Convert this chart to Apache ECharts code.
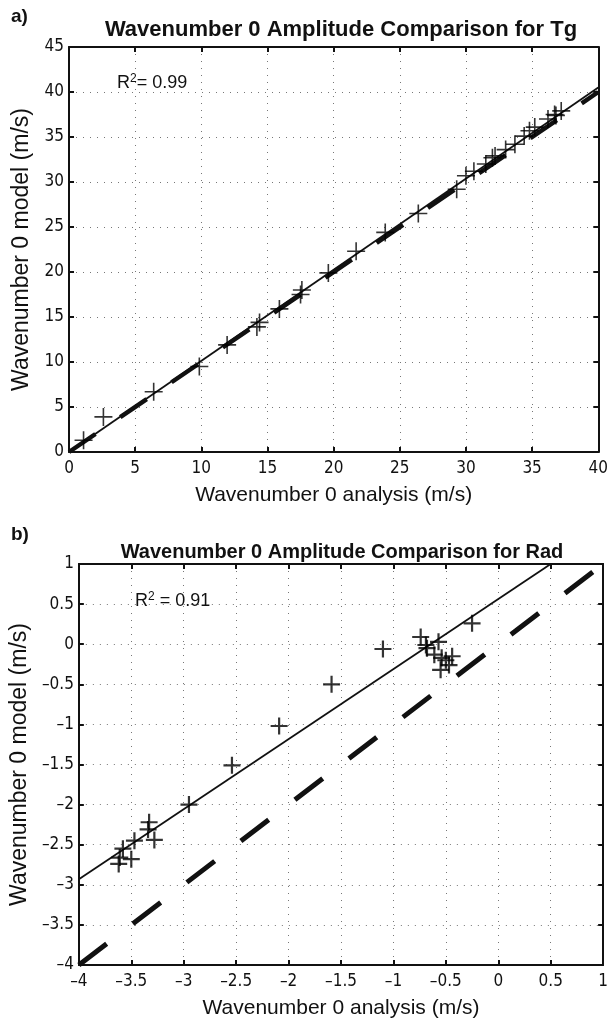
<!DOCTYPE html>
<html><head><meta charset="utf-8">
<script src="https://cdn.jsdelivr.net/npm/echarts@6/dist/echarts.min.js"></script>
<style>html,body{margin:0;padding:0;background:#fff}#c{width:611px;height:1020px}</style>
</head><body><div id="c"></div>
<script>
// ---- Panel a) Tg ----
const tgAnalysis = [1.1, 2.6, 6.4, 9.85, 11.95, 14.2, 14.4, 15.9, 17.5, 17.6, 19.6, 21.7, 23.9, 26.4, 29.3, 30.0, 30.6, 31.5, 32.0, 32.2, 33.0, 33.7, 34.4, 34.8, 35.2, 36.2, 36.7, 36.8, 37.2];
const tgModel    = [1.3, 3.9, 6.7, 9.5, 11.9, 13.9, 14.4, 15.9, 17.5, 18.0, 19.9, 22.3, 24.4, 26.5, 29.2, 30.7, 31.2, 32.0, 32.7, 32.9, 33.6, 34.2, 35.1, 35.7, 36.1, 37.0, 37.5, 37.4, 37.9];
const tgFitX = [0, 40];
const tgFitY = [0, 40.5];
const tgOneX = [0, 40];
const tgOneY = [0, 40];
const tgTicksX = [0, 5, 10, 15, 20, 25, 30, 35, 40];
const tgTicksY = [0, 5, 10, 15, 20, 25, 30, 35, 40, 45];
const tgR2 = '0.99';

// ---- Panel b) Rad ----
const radAnalysis = [-2.95, -2.54, -2.09, -1.59, -1.10, -0.25, -0.74, -0.69, -0.68, -0.57, -0.61, -0.54, -0.44, -0.47, -0.55, -0.50, -3.33, -3.34, -3.28, -3.47, -3.58, -3.61, -3.50, -3.62];
const radModel    = [-2.00, -1.51, -1.02, -0.50, -0.06, 0.26, 0.09, -0.01, -0.05, 0.03, -0.13, -0.17, -0.15, -0.26, -0.32, -0.20, -2.22, -2.31, -2.44, -2.45, -2.55, -2.66, -2.68, -2.74];
const radFitX = [-4, 0.5];
const radFitY = [-2.93, 1.0];
const radOneX = [-4, 1];
const radOneY = [-4, 1];
const radTicksX = [-4, -3.5, -3, -2.5, -2, -1.5, -1, -0.5, 0, 0.5, 1];
const radTicksY = [-4, -3.5, -3, -2.5, -2, -1.5, -1, -0.5, 0, 0.5, 1];
const radR2 = '0.91';

const titles = ['Wavenumber 0 Amplitude Comparison for Tg', 'Wavenumber 0 Amplitude Comparison for Rad'];
const panelLabels = ['a)', 'b)'];
const xName = 'Wavenumber 0 analysis (m/s)';
const yName = 'Wavenumber 0 model (m/s)';

const zip = (a, b) => a.map((v, i) => [v, b[i]]);
const fmt = v => String(v).replace('-', '\u2013');
const NARROW = "'Liberation Sans Narrow','DejaVu Sans Condensed',sans-serif";
const SANS = "'Liberation Sans',Arial,sans-serif";
const PLUS = 'path://M10,0L10,20M0,10L20,10';
const INK = '#111';

const grids = [
  {left: 69, top: 47, width: 540, height: 405},
  {left: 75, top: 564, width: 535, height: 401}
];

function mainX(gi, min, max, interval, ticks) {
  return {
    type: 'value', gridIndex: gi, min, max, interval, position: 'bottom',
    name: xName, nameLocation: 'middle', nameGap: 33,
    nameTextStyle: {fontFamily: SANS, fontSize: 21, color: INK},
    axisLine: {show: true, onZero: false, lineStyle: {color: INK, width: 2}},
    axisTick: {show: true, inside: true, length: 5, lineStyle: {color: INK, width: 2}},
    axisLabel: {fontFamily: NARROW, fontSize: 17, color: INK, margin: 8,
      formatter: v => ticks.includes(v) ? fmt(v) : ''},
    splitLine: {show: true, lineStyle: {color: '#777', type: [1, 6], width: 1}}
  };
}
function mainY(gi, min, max, interval, ticks, gap) {
  return {
    type: 'value', gridIndex: gi, min, max, interval, position: 'left',
    name: yName, nameLocation: 'middle', nameGap: gap,
    nameTextStyle: {fontFamily: SANS, fontSize: 23, color: INK},
    axisLine: {show: true, onZero: false, lineStyle: {color: INK, width: 2}},
    axisTick: {show: true, inside: true, length: 5, lineStyle: {color: INK, width: 2}},
    axisLabel: {fontFamily: NARROW, fontSize: 17, color: INK, margin: 5,
      formatter: v => ticks.includes(v) ? fmt(v) : ''},
    splitLine: {show: true, lineStyle: {color: '#777', type: [1, 6], width: 1}}
  };
}
function sideAxis(kind, gi, min, max, interval) {
  return {
    type: 'value', gridIndex: gi, min, max, interval,
    position: kind === 'x' ? 'top' : 'right',
    axisLine: {show: true, onZero: false, lineStyle: {color: INK, width: 2}},
    axisTick: {show: true, inside: true, length: 5, lineStyle: {color: INK, width: 2}},
    axisLabel: {show: false}, splitLine: {show: false}
  };
}
const r2Rich = {
  a: {fontFamily: SANS, fontSize: 18, fontWeight: 'normal', color: INK},
  s: {fontFamily: SANS, fontSize: 12, fontWeight: 'normal', color: INK, verticalAlign: 'top', padding: [0, 0, 9, 0]}
};

const option = {
  animation: false,
  backgroundColor: '#fff',
  title: [
    {text: panelLabels[0], left: 6, top: 2, textStyle: {fontFamily: SANS, fontSize: 19, fontWeight: 'bold', color: INK}},
    {text: titles[0], left: 336, top: 14, textAlign: 'center', textStyle: {fontFamily: SANS, fontSize: 22, fontWeight: 'bold', color: INK}},
    {text: panelLabels[1], left: 6, top: 520, textStyle: {fontFamily: SANS, fontSize: 19, fontWeight: 'bold', color: INK}},
    {text: titles[1], left: 337, top: 537, textAlign: 'center', textStyle: {fontFamily: SANS, fontSize: 20, fontWeight: 'bold', color: INK}},
    {text: '{a|R}{s|2}{a|= ' + tgR2 + '}', left: 112, top: 68, textStyle: {fontWeight: 'normal', rich: r2Rich}},
    {text: '{a|R}{s|2}{a| = ' + radR2 + '}', left: 130, top: 586, textStyle: {fontWeight: 'normal', rich: r2Rich}}
  ],
  grid: grids,
  xAxis: [
    mainX(0, 0, 40, 5, tgTicksX),
    sideAxis('x', 0, 0, 40, 5),
    mainX(1, -4, 1, 0.5, radTicksX),
    sideAxis('x', 1, -4, 1, 0.5)
  ],
  yAxis: [
    mainY(0, 0, 45, 5, tgTicksY, 29),
    sideAxis('y', 0, 0, 45, 5),
    mainY(1, -4, 1, 0.5, radTicksY, 35),
    sideAxis('y', 1, -4, 1, 0.5)
  ],
  series: [
    {type: 'line', xAxisIndex: 0, yAxisIndex: 0, data: zip(tgOneX, tgOneY), symbol: 'none', z: 2,
      lineStyle: {color: INK, width: 4.5, type: [32, 30], cap: 'butt'}},
    {type: 'line', xAxisIndex: 0, yAxisIndex: 0, data: zip(tgFitX, tgFitY), symbol: 'none', z: 3,
      lineStyle: {color: INK, width: 1.8}},
    {type: 'scatter', xAxisIndex: 0, yAxisIndex: 0, data: zip(tgAnalysis, tgModel), symbol: PLUS, symbolSize: 18, z: 4,
      itemStyle: {color: 'rgba(0,0,0,0)', borderColor: '#000', borderWidth: 1.6}},
    {type: 'line', xAxisIndex: 2, yAxisIndex: 2, data: zip(radOneX, radOneY), symbol: 'none', z: 2,
      lineStyle: {color: INK, width: 5, type: [35, 33], cap: 'butt'}},
    {type: 'line', xAxisIndex: 2, yAxisIndex: 2, data: zip(radFitX, radFitY), symbol: 'none', z: 3,
      lineStyle: {color: INK, width: 1.8}},
    {type: 'scatter', xAxisIndex: 2, yAxisIndex: 2, data: zip(radAnalysis, radModel), symbol: PLUS, symbolSize: 17, z: 4,
      itemStyle: {color: 'rgba(0,0,0,0)', borderColor: '#000', borderWidth: 2.2}}
  ]
};
const chart = echarts.init(document.getElementById('c'), null, {renderer: 'canvas'});
chart.setOption(option);
</script></body></html>
